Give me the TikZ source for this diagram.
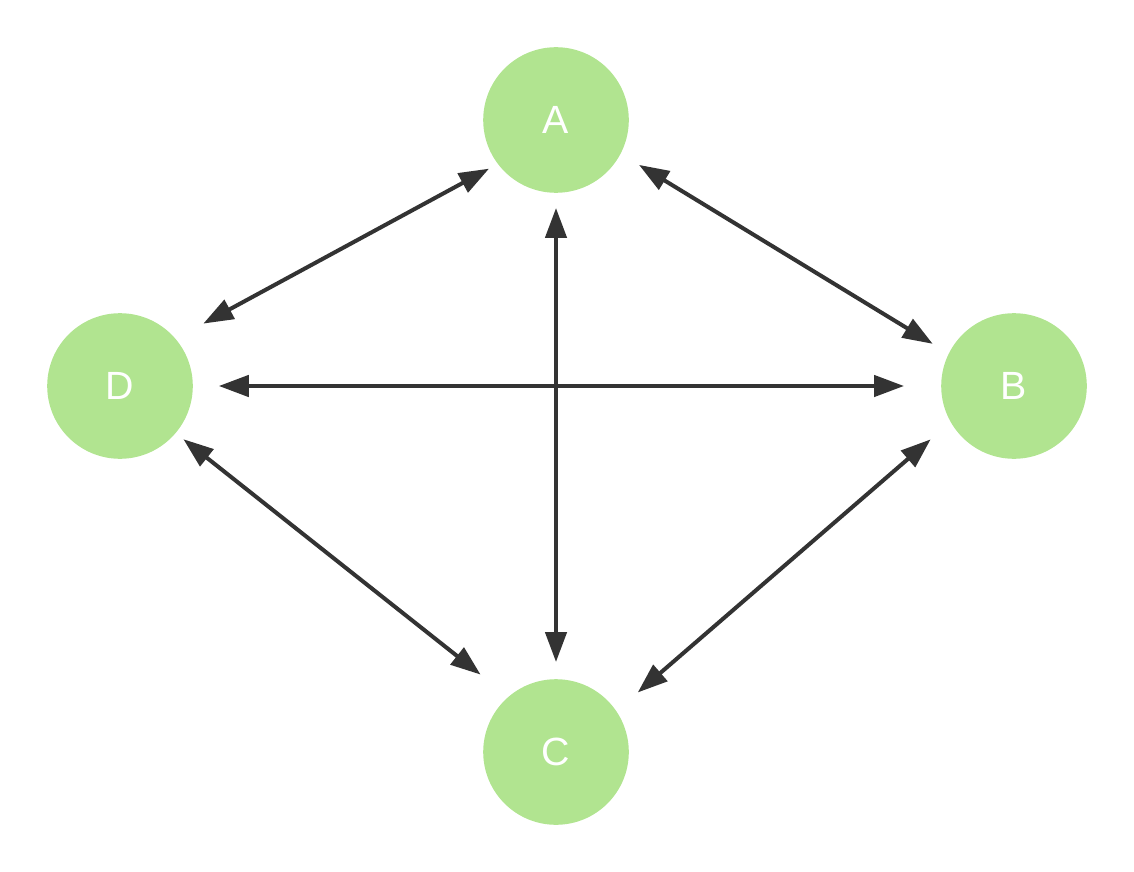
\documentclass[tikz,border=0pt]{standalone}
\usepackage{fontspec}
\setsansfont{Liberation Sans}
\usetikzlibrary{arrows.meta}
\definecolor{leaf}{RGB}{177,228,144}
\definecolor{ink}{RGB}{51,51,51}

\begin{document}
\begin{tikzpicture}[line join=round,
  >={Triangle[length=0.75cm,width=0.53cm]},
  vertex/.style={circle,fill=leaf,minimum size=3.64cm,
    outer sep=0.25cm,text=white,font=\sffamily\fontsize{28}{32}\selectfont},
  link/.style={<->,ink,line width=2.85pt}]
  \useasboundingbox (0,0) rectangle (28.35,-21.8);
  \node[vertex] (A) at (13.9,-3.0){A};
  \node[vertex] (B) at (25.35,-9.65){B};
  \node[vertex] (C) at (13.9,-18.8){C};
  \node[vertex] (D) at (3.0,-9.65){D};
  \draw[link,shorten <=0.54cm] (D.39.5)--(A.216);
  \draw[link,shorten <=0.29cm,shorten >=0.22cm] (A.-28.8)--(B.153.2);
  \draw[link,shorten <=0.4cm,shorten >=0.68cm] (D.east)--(B.west);
  \draw[link,shorten <=0.13cm,shorten >=0.18cm] (A.south)--(C.north);
  \draw[link,shorten >=0.64cm] (D.-40.6)--(C.132);
  \draw[link,shorten <=0.41cm,shorten >=0.46cm] (B.211.3)--(C.35.3);
\end{tikzpicture}
\end{document}
